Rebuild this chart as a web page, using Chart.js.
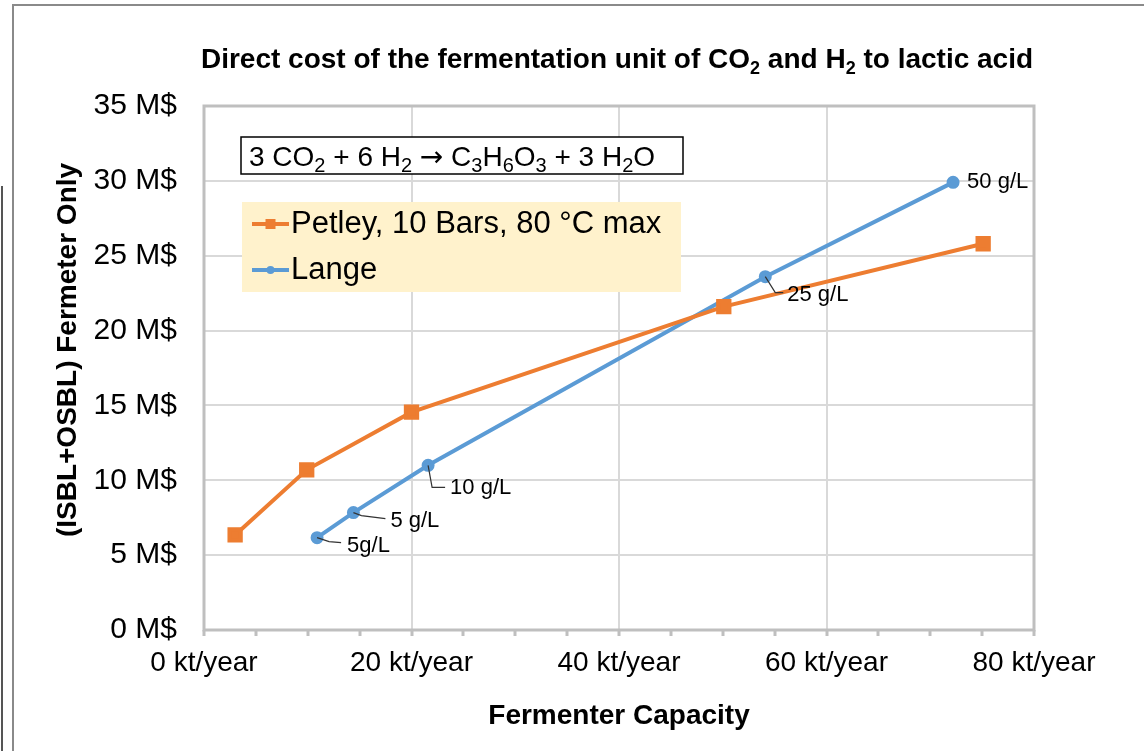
<!DOCTYPE html>
<html lang="en">
<head>
<meta charset="UTF-8">
<title>Direct cost of the fermentation unit of CO2 and H2 to lactic acid</title>
<style>
  body { margin: 0; background: #fff; }
  #chart { display: block; }
</style>
</head>
<body>
<canvas id="chart" width="1144" height="751"></canvas>
<script src="https://cdn.jsdelivr.net/npm/chart.js"></script>
<script>
// values: capacity in kt/year, cost in M$
const petleyX = [3.0, 9.9, 20.0, 50.1, 75.1];
const petleyY = [6.35, 10.7, 14.55, 21.6, 25.8];
const langeX = [10.9, 14.4, 21.6, 54.1, 72.2];
const langeY = [6.17, 7.84, 11.0, 23.6, 29.9];
const langeLabels = ['5g/L', '5 g/L', '10 g/L', '25 g/L', '50 g/L'];
const xTickLabels = [0, 20, 40, 60, 80];
const seriesNames = ['Petley, 10 Bars, 80 °C max', 'Lange'];
const yTitle = '(ISBL+OSBL) Fermeter Only';

const FONT = "'Liberation Sans', Arial, sans-serif";
const ORANGE = '#ed7d31';
const BLUE = '#5b9bd5';

// where each Lange label sits relative to its point (+ leader line bends)
const labelPos = [
  { dx: 30, dy: 8, leader: [[12, 4], [24, 5]] },
  { dx: 37, dy: 8, leader: [[8, 3], [32, 6]] },
  { dx: 22, dy: 23, leader: [[4, 22], [17, 22]] },
  { dx: 22, dy: 18, leader: [[10, 16], [18, 16]] },
  { dx: 14, dy: 0, leader: null }
];

function toPoints(xs, ys) {
  return xs.map((x, i) => ({ x: x, y: ys[i] }));
}

// text pieces: [string, isSubscript, optional font family]
function pieceFont(p, size, weight, sub) {
  return weight + ' ' + (p[1] ? Math.round(size * sub) : size) + 'px ' + (p[2] || FONT);
}
function richWidth(ctx, parts, size, weight, sub) {
  let w = 0;
  parts.forEach(p => {
    ctx.font = pieceFont(p, size, weight, sub);
    w += ctx.measureText(p[0]).width;
  });
  return w;
}
function drawRich(ctx, parts, x, y, size, weight, sub) {
  ctx.textAlign = 'left';
  ctx.textBaseline = 'alphabetic';
  parts.forEach(p => {
    ctx.font = pieceFont(p, size, weight, sub);
    ctx.fillText(p[0], x, p[1] ? y + size * 0.2 : y);
    x += ctx.measureText(p[0]).width;
  });
}

const titleParts = [['Direct cost of the fermentation unit of CO', 0], ['2', 1], [' and H', 0], ['2', 1], [' to lactic acid', 0]];
const equationParts = [['3 CO', 0], ['2', 1], [' + 6 H', 0], ['2', 1], [' ', 0], ['\u2192', 0, "'DejaVu Sans', sans-serif"], [' C', 0], ['3', 1], ['H', 0], ['6', 1], ['O', 0], ['3', 1], [' + 3 H', 0], ['2', 1], ['O', 0]];

const extras = {
  id: 'extras',
  beforeDraw(chart) {
    const ctx = chart.ctx;
    ctx.save();
    // frame of the original slide
    ctx.strokeStyle = '#8a8a8a';
    ctx.lineWidth = 2;
    ctx.beginPath();
    ctx.moveTo(13, 751); ctx.lineTo(13, 5); ctx.lineTo(1144, 5);
    ctx.stroke();
    ctx.strokeStyle = '#555';
    ctx.beginPath();
    ctx.moveTo(2, 186); ctx.lineTo(2, 751);
    ctx.stroke();
    ctx.restore();
  },
  beforeDatasetsDraw(chart) {
    const ctx = chart.ctx;
    const a = chart.chartArea;
    ctx.save();
    ctx.strokeStyle = '#bfbfbf';
    ctx.lineWidth = 3;
    ctx.strokeRect(a.left, a.top, a.right - a.left, a.bottom - a.top);
    // equation box
    ctx.fillStyle = '#fff';
    ctx.fillRect(a.left + 37, a.top + 31, 442, 37);
    ctx.strokeStyle = '#000';
    ctx.lineWidth = 1.5;
    ctx.strokeRect(a.left + 37, a.top + 31, 442, 37);
    // legend background
    ctx.fillStyle = '#fff2cc';
    ctx.fillRect(a.left + 38, a.top + 96, 439, 90);
    ctx.restore();
  },
  afterDatasetsDraw(chart) {
    const ctx = chart.ctx;
    const a = chart.chartArea;
    ctx.save();
    ctx.fillStyle = '#000';

    // title
    const tw = richWidth(ctx, titleParts, 28, 'bold', 0.65);
    drawRich(ctx, titleParts, 617 - tw / 2, 68, 28, 'bold', 0.65);

    // y axis title
    ctx.save();
    ctx.translate(68, 350);
    ctx.rotate(-Math.PI / 2);
    ctx.font = 'bold 28px ' + FONT;
    ctx.textAlign = 'center';
    ctx.textBaseline = 'middle';
    ctx.fillText(yTitle, 0, 0);
    ctx.restore();

    // equation
    drawRich(ctx, equationParts, a.left + 45, a.top + 60, 28, 'normal', 0.72);

    // legend
    chart.data.datasets.forEach((ds, i) => {
      const y = a.top + 118 + i * 46;
      const x0 = a.left + 48, x1 = a.left + 85;
      ctx.strokeStyle = ds.borderColor;
      ctx.lineWidth = 4;
      ctx.beginPath(); ctx.moveTo(x0, y); ctx.lineTo(x1, y); ctx.stroke();
      ctx.fillStyle = ds.borderColor;
      if (ds.pointStyle === 'rect') ctx.fillRect((x0 + x1) / 2 - 5, y - 5, 10, 10);
      else { ctx.beginPath(); ctx.arc((x0 + x1) / 2, y, 4, 0, Math.PI * 2); ctx.fill(); }
      ctx.fillStyle = '#000';
      ctx.font = '31px ' + FONT;
      ctx.textAlign = 'left';
      ctx.textBaseline = 'middle';
      ctx.fillText(ds.label, x1 + 2, y);
    });

    // Lange data labels
    const meta = chart.getDatasetMeta(1);
    ctx.font = '22px ' + FONT;
    ctx.textAlign = 'left';
    ctx.textBaseline = 'middle';
    meta.data.forEach((pt, i) => {
      const p = labelPos[i];
      if (p.leader) {
        ctx.strokeStyle = '#333';
        ctx.lineWidth = 1.2;
        ctx.beginPath();
        ctx.moveTo(pt.x, pt.y);
        p.leader.forEach(q => ctx.lineTo(pt.x + q[0], pt.y + q[1]));
        ctx.stroke();
      }
      ctx.fillText(langeLabels[i], pt.x + p.dx, pt.y + p.dy);
    });
    ctx.restore();
  }
};

new Chart(document.getElementById('chart'), {
  type: 'line',
  data: {
    datasets: [
      {
        label: seriesNames[0],
        data: toPoints(petleyX, petleyY),
        borderColor: ORANGE,
        backgroundColor: ORANGE,
        borderWidth: 4,
        pointStyle: 'rect',
        pointRadius: 8,
        tension: 0
      },
      {
        label: seriesNames[1],
        data: toPoints(langeX, langeY),
        borderColor: BLUE,
        backgroundColor: BLUE,
        borderWidth: 4,
        pointStyle: 'circle',
        pointRadius: 4.5,
        tension: 0
      }
    ]
  },
  options: {
    responsive: false,
    animation: false,
    devicePixelRatio: 1,
    layout: { padding: { left: 0, right: 110, top: 106, bottom: 0 } },
    plugins: {
      legend: { display: false },
      title: { display: false },
      tooltip: { enabled: false }
    },
    scales: {
      x: {
        type: 'linear',
        min: 0, max: 80,
        afterFit: s => { s.height = 121; },
        border: { display: false },
        grid: {
          color: c => (c.tick && c.tick.value % 20 === 0) ? '#d9d9d9' : 'rgba(0,0,0,0)',
          lineWidth: 2,
          drawTicks: true,
          tickLength: 6,
          tickColor: '#bfbfbf',
          tickWidth: 3
        },
        ticks: {
          stepSize: 5,
          autoSkip: false,
          maxRotation: 0,
          padding: 10,
          color: '#000',
          font: { family: FONT, size: 28 },
          callback: v => xTickLabels.includes(v) ? v + ' kt/year' : ''
        },
        title: {
          display: true,
          text: 'Fermenter Capacity',
          color: '#000',
          font: { family: FONT, size: 28, weight: 'bold' },
          padding: { top: 0, bottom: 18 }
        }
      },
      y: {
        min: 0, max: 35,
        afterFit: s => { s.width = 204; },
        border: { display: false },
        grid: { color: '#d9d9d9', lineWidth: 2, drawTicks: false },
        ticks: {
          stepSize: 5,
          padding: 27,
          color: '#000',
          font: { family: FONT, size: 30 },
          callback: v => v + ' M$'
        }
      }
    }
  },
  plugins: [extras]
});
</script>
</body>
</html>
